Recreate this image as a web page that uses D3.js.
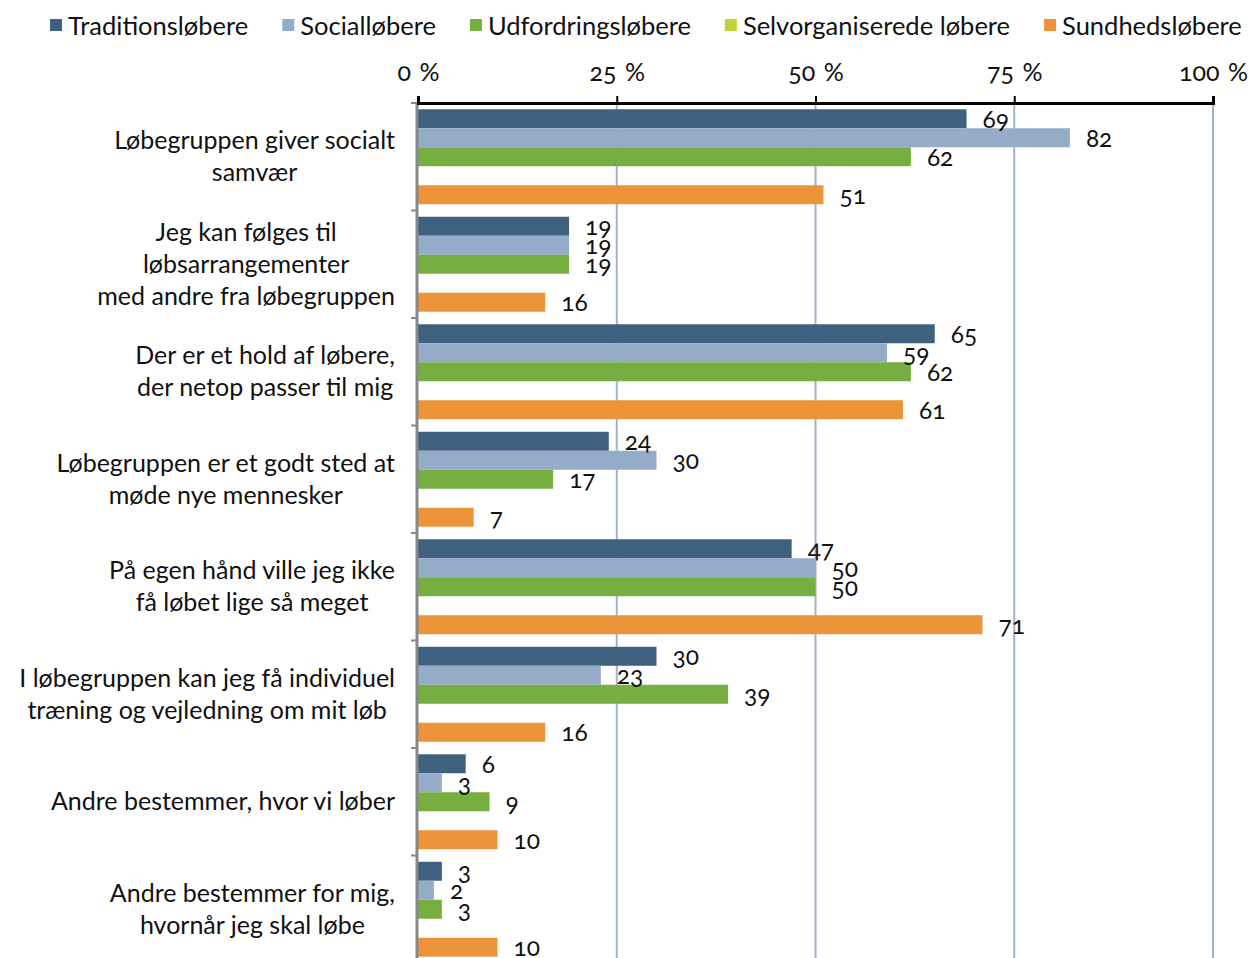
<!DOCTYPE html>
<html>
<head>
<meta charset="utf-8">
<script src="https://cdn.jsdelivr.net/npm/d3@7"></script>
<style>
  html, body { margin: 0; padding: 0; background: #fff; }
  svg { display: block; }
  text { font-family: Lato, "Noto Sans", sans-serif; fill: #111; font-variant-numeric: oldstyle-nums; font-feature-settings: "onum" 1; }
</style>
</head>
<body>
<svg id="chart" width="1249" height="958"></svg>
<script>
// Survey statements (line breaks marked with "|")
const categories = [
  "Løbegruppen giver socialt|samvær",
  "Jeg kan følges til|løbsarrangementer|med andre fra løbegruppen",
  "Der er et hold af løbere,|der netop passer til mig",
  "Løbegruppen er et godt sted at|møde nye mennesker",
  "På egen hånd ville jeg ikke|få løbet lige så meget",
  "I løbegruppen kan jeg få individuel|træning og vejledning om mit løb",
  "Andre bestemmer, hvor vi løber",
  "Andre bestemmer for mig,|hvornår jeg skal løbe"
];

const seriesNames = ["Traditionsløbere", "Socialløbere", "Udfordringsløbere", "Selvorganiserede løbere", "Sundhedsløbere"];

// Share agreeing (%), one array per runner type
const traditionslobere = [69, 19, 65, 24, 47, 30, 6, 3];
const sociallobere     = [82, 19, 59, 30, 50, 23, 3, 2];
const udfordringslobere = [62, 19, 62, 17, 50, 39, 9, 3];
const selvorganiserede = [null, null, null, null, null, null, null, null];
const sundhedslobere   = [51, 16, 61, 7, 71, 16, 10, 10];

const seriesValues = [traditionslobere, sociallobere, udfordringslobere, selvorganiserede, sundhedslobere];
const seriesColors = ["#3F6180", "#95ACC8", "#77AE41", "#C4D13A", "#EC943A"];

const xTicks = [0, 25, 50, 75, 100];

const svg = d3.select("#chart");

const plot = { left: 418, right: 1213, top: 103, bandStep: 107.5 };
const bottom = plot.top + plot.bandStep * categories.length;

const x = d3.scaleLinear().domain([0, 100]).range([plot.left, plot.right]);
const y = d3.scaleBand().domain(categories).range([plot.top, bottom]).padding(0);
const ySub = d3.scaleBand().domain(seriesNames).range([0, y.bandwidth()]).paddingInner(0).paddingOuter(0.33);

// Vertical gridlines
svg.append("g")
  .selectAll("line")
  .data(xTicks.filter(d => d > 0))
  .join("line")
  .attr("x1", d => x(d)).attr("x2", d => x(d))
  .attr("y1", plot.top).attr("y2", bottom)
  .attr("stroke", "#9DB3CF").attr("stroke-width", 2);

// Bars
const groups = svg.append("g")
  .selectAll("g")
  .data(categories)
  .join("g")
  .attr("transform", d => `translate(0,${y(d)})`);

groups.each(function (cat, ci) {
  const rows = seriesNames
    .map((s, si) => ({ s, si, v: seriesValues[si][ci] }))
    .filter(d => d.v != null);
  const g = d3.select(this);
  g.selectAll("rect")
    .data(rows)
    .join("rect")
    .attr("x", x(0))
    .attr("y", d => ySub(d.s))
    .attr("width", d => x(d.v) - x(0))
    .attr("height", ySub.bandwidth())
    .attr("fill", d => seriesColors[d.si]);
  g.selectAll("text")
    .data(rows)
    .join("text")
    .attr("x", d => x(d.v) + 16)
    .attr("y", d => ySub(d.s) + ySub.bandwidth() / 2 + 9)
    .attr("font-size", 24.5)
    .text(d => d.v);
});

// Left axis (gray) with category boundary ticks
const yAxisG = svg.append("g");
yAxisG.append("line")
  .attr("x1", plot.left - 1).attr("x2", plot.left - 1)
  .attr("y1", plot.top).attr("y2", bottom)
  .attr("stroke", "#888").attr("stroke-width", 3);
yAxisG.selectAll("line.tick")
  .data(d3.range(categories.length + 1))
  .join("line")
  .attr("class", "tick")
  .attr("x1", plot.left - 7).attr("x2", plot.left - 1)
  .attr("y1", i => plot.top + i * y.step()).attr("y2", i => plot.top + i * y.step())
  .attr("stroke", "#888").attr("stroke-width", 2);

// Category labels: lines centred within a right-aligned block
const labelRight = 395;
const lineH = 32;
categories.forEach(cat => {
  const lines = cat.split("|");
  const t = svg.append("text")
    .attr("font-size", 25)
    .attr("text-anchor", "middle");
  const cy = y(cat) + y.bandwidth() / 2;
  lines.forEach((ln, i) => {
    t.append("tspan")
      .attr("y", cy + (i - (lines.length - 1) / 2) * lineH + 8.5)
      .text(ln);
  });
  let maxW = 0;
  t.selectAll("tspan").each(function () { maxW = Math.max(maxW, this.getComputedTextLength()); });
  t.selectAll("tspan").attr("x", labelRight - maxW / 2);
});

// Top axis
const xAxis = d3.axisTop(x).tickValues(xTicks).tickSize(7).tickFormat(d => d + " %");
const xAxisG = svg.append("g")
  .attr("transform", `translate(0,${plot.top})`)
  .call(xAxis);
xAxisG.select(".domain").attr("stroke", "#000").attr("stroke-width", 3);
xAxisG.selectAll(".tick line").attr("stroke", "#000").attr("stroke-width", 2);
xAxisG.selectAll(".tick text")
  .attr("font-size", 25)
  .attr("font-family", "Lato, 'Noto Sans', sans-serif")
  .attr("fill", "#111")
  .attr("word-spacing", 2)
  .attr("y", -22)
  .attr("dy", 0);

// Legend
const legend = svg.append("g").attr("transform", "translate(50,0)");
let lx = 0;
seriesNames.forEach((name, i) => {
  const item = legend.append("g").attr("transform", `translate(${lx},0)`);
  item.append("rect")
    .attr("x", 0).attr("y", 19).attr("width", 12).attr("height", 12)
    .attr("fill", seriesColors[i]);
  const tx = item.append("text")
    .attr("x", 18).attr("y", 35)
    .attr("font-size", 25.5)
    .text(name);
  lx += 18 + tx.node().getComputedTextLength() + 34;
});
</script>
</body>
</html>
